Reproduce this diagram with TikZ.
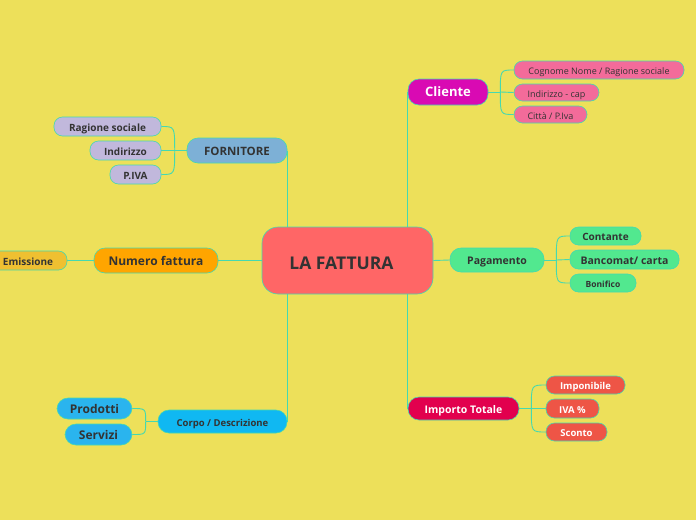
\documentclass[tikz,border=0pt]{standalone}
\usepackage{fontspec}
\setmainfont{Open Sans}
\usetikzlibrary{backgrounds}

\definecolor{bg}{HTML}{EDE05A}
\definecolor{edge}{HTML}{45D9B0}
\definecolor{ink}{HTML}{333333}
\definecolor{core}{HTML}{FF6666}
\definecolor{clientc}{HTML}{D90AB3}
\definecolor{pinkc}{HTML}{F36B9A}
\definecolor{fornc}{HTML}{7DB0D6}
\definecolor{lavc}{HTML}{C1B8DC}
\definecolor{numc}{HTML}{FFA500}
\definecolor{emisc}{HTML}{EFC031}
\definecolor{payc}{HTML}{52E88F}
\definecolor{corpoc}{HTML}{10B8F2}
\definecolor{prodc}{HTML}{2AB4EE}
\definecolor{totc}{HTML}{E2004E}
\definecolor{redc}{HTML}{EE5546}

\newcommand{\fs}[1]{\fontsize{#1}{#1}\selectfont}

\begin{document}
\begin{tikzpicture}[x=1pt, y=-1pt,
    pill/.style={draw=edge, line width=0.6pt, inner sep=0pt, align=center,
                 text=ink, rounded corners=8.5pt, font=\bfseries\fs{10},
                 text height=0.9em, text depth=0pt},
    big/.style={pill, rounded corners=11pt},
    thin/.style={pill, font=\fs{9}},
    link/.style={draw=edge, line width=0.9pt},
]
\useasboundingbox (0,0) rectangle (696,520);
\clip (0,0) rectangle (696,520);

% ── Centre ────────────────────────────────────────────
\node[pill, fill=core, rounded corners=16pt, minimum width=171, minimum height=67,
      font=\bfseries\fs{17.5}, text height=18.5pt] (fattura) at (347.5,260.5)
    {LA FATTURA\hspace{12pt}};

% ── Cliente ───────────────────────────────────────────
\node[big, fill=clientc, text=white, minimum width=80, minimum height=26,
      font=\bfseries\fs{13}] (cliente) at (448,92) {Cliente};
\node[thin, fill=pinkc, minimum width=170, minimum height=18] (cognome)
    at (599,70) {Cognome Nome / Ragione sociale};
\node[thin, fill=pinkc, minimum width=85, minimum height=17] (indcap)
    at (556.5,92.5) {Indirizzo - cap};
\node[thin, fill=pinkc, minimum width=73, minimum height=17] (citta)
    at (550.5,114.5) {Città / P.Iva};

% ── Fornitore ─────────────────────────────────────────
\node[big, fill=fornc, minimum width=100, minimum height=25,
      font=\bfseries\fs{11.5}] (fornitore) at (237,150.5) {FORNITORE};
\node[pill, fill=lavc, minimum width=107, minimum height=19] (ragsoc)
    at (107.5,126.5) {Ragione sociale};
\node[pill, fill=lavc, minimum width=71, minimum height=19] (indir)
    at (125.5,150.5) {Indirizzo};
\node[pill, fill=lavc, minimum width=51, minimum height=19] (piva)
    at (135.5,174.5) {P.IVA};

% ── Numero fattura ────────────────────────────────────
\node[big, fill=numc, minimum width=124, minimum height=25,
      font=\bfseries\fs{12}] (numero) at (156,260.5) {Numero fattura};
\node[pill, fill=emisc, minimum width=78, minimum height=19] (emissione)
    at (28,260.5) {Emissione};

% ── Pagamento ─────────────────────────────────────────
\node[big, fill=payc, minimum width=94, minimum height=24,
      font=\bfseries\fs{10.5}] (pagamento) at (497,260) {Pagamento};
\node[pill, fill=payc, minimum width=71, minimum height=18] (contante)
    at (605.5,236) {Contante};
\node[pill, fill=payc, minimum width=109, minimum height=19,
      font=\bfseries\fs{10.5}] (bancomat) at (624.5,259.5) {Bancomat/ carta};
\node[pill, fill=payc, minimum width=66, minimum height=18,
      font=\bfseries\fs{8.5}] (bonifico) at (603,283) {Bonifico};

% ── Corpo / Descrizione ───────────────────────────────
\node[big, fill=corpoc, minimum width=129, minimum height=23,
      font=\bfseries\fs{9.5}] (corpo) at (222.5,421.5) {Corpo / Descrizione};
\node[big, fill=prodc, minimum width=75, minimum height=21,
      font=\bfseries\fs{12}] (prodotti) at (94.5,408.5) {Prodotti};
\node[big, fill=prodc, minimum width=67, minimum height=21,
      font=\bfseries\fs{12}] (servizi) at (98.5,434.5) {Servizi};

% ── Importo Totale ────────────────────────────────────
\node[big, fill=totc, text=white, minimum width=111, minimum height=23,
      font=\bfseries\fs{10.5}] (importo) at (463.5,408.5) {Importo Totale};
\node[pill, fill=redc, text=white, minimum width=79, minimum height=18,
      font=\bfseries\fs{9.5}] (imponibile) at (585.5,385) {Imponibile};
\node[pill, fill=redc, text=white, minimum width=53, minimum height=19,
      font=\bfseries\fs{9.5}] (iva) at (572.5,408.5) {IVA \%};
\node[pill, fill=redc, text=white, minimum width=61, minimum height=18,
      font=\bfseries\fs{9.5}] (sconto) at (576.5,432) {Sconto};

% ── Connectors (behind the nodes) ─────────────────────
\begin{scope}[on background layer]
\fill[bg] (0,0) rectangle (696,520);
% centre to main topics
\draw[link] (fattura.north -| cliente.west) -- (cliente.west);
\draw[link] (fattura.south -| importo.west) -- (importo.west);
\draw[link] (fattura.north -| fornitore.east) -- (fornitore.east);
\draw[link] (fattura.south -| corpo.east) -- (corpo.east);
\draw[link] (numero.east) -- (fattura.west);
\draw[link] (fattura.east) -- (pagamento.west);
\draw[link] (emissione.east) -- (numero.west);

% forks to the sub-topics
\draw[link] (cliente.east) -- ++(12,0) coordinate (fcli);
\draw[link] (fcli) .. controls (fcli |- cognome.west) .. (cognome.west);
\draw[link] (fcli) -- (indcap.west);
\draw[link] (fcli) .. controls (fcli |- citta.west) .. (citta.west);

\draw[link] (fornitore.west) -- ++(-12,0) coordinate (fforn);
\draw[link] (fforn) .. controls (fforn |- ragsoc.east) .. (ragsoc.east);
\draw[link] (fforn) -- (indir.east);
\draw[link] (fforn) .. controls (fforn |- piva.east) .. (piva.east);

\draw[link] (pagamento.east) -- ++(12,0) coordinate (fpag);
\draw[link] (fpag) .. controls (fpag |- contante.west) .. (contante.west);
\draw[link] (fpag) -- (bancomat.west);
\draw[link] (fpag) .. controls (fpag |- bonifico.west) .. (bonifico.west);

\draw[link] (corpo.west) -- ++(-12,0) coordinate (fcorpo);
\draw[link] (fcorpo) .. controls (fcorpo |- prodotti.east) .. (prodotti.east);
\draw[link] (fcorpo) .. controls (fcorpo |- servizi.east) .. (servizi.east);

\draw[link] (importo.east) -- ++(12,0) coordinate (fimp);
\draw[link] (fimp) .. controls (fimp |- imponibile.west) .. (imponibile.west);
\draw[link] (fimp) -- (iva.west);
\draw[link] (fimp) .. controls (fimp |- sconto.west) .. (sconto.west);
\end{scope}

\end{tikzpicture}
\end{document}
